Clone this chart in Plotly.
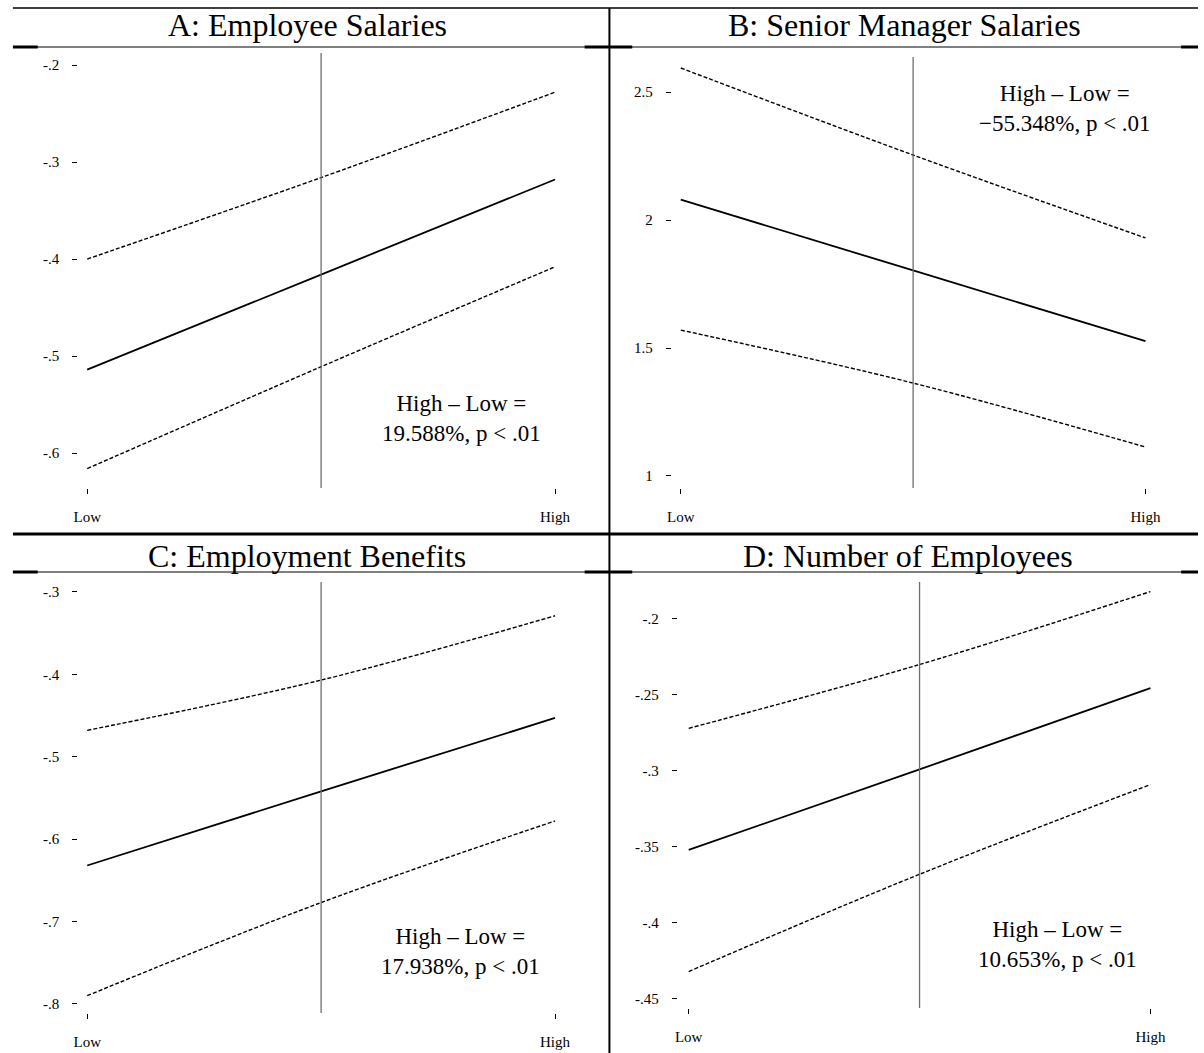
import plotly.graph_objects as go

# Predicted outcome at low / mean / high levels of the moderator
x_levels = [0, 0.5, 1]
x_tick_labels = ["Low", "High"]

a_fit = [-0.514, -0.416, -0.318]
a_upper = [-0.400, -0.316, -0.228]
a_lower = [-0.616, -0.511, -0.408]

b_fit = [2.080, 1.803, 1.527]
b_upper = [2.594, 2.254, 1.930]
b_lower = [1.570, 1.363, 1.113]

c_fit = [-0.632, -0.542, -0.453]
c_upper = [-0.468, -0.407, -0.329]
c_lower = [-0.790, -0.677, -0.578]

d_fit = [-0.352, -0.299, -0.2455]
d_upper = [-0.272, -0.230, -0.182]
d_lower = [-0.432, -0.368, -0.309]

a_ticks = [-0.2, -0.3, -0.4, -0.5, -0.6]
a_ticktext = ["-.2", "-.3", "-.4", "-.5", "-.6"]
b_ticks = [1, 1.5, 2, 2.5]
b_ticktext = ["1", "1.5", "2", "2.5"]
c_ticks = [-0.3, -0.4, -0.5, -0.6, -0.7, -0.8]
c_ticktext = ["-.3", "-.4", "-.5", "-.6", "-.7", "-.8"]
d_ticks = [-0.2, -0.25, -0.3, -0.35, -0.4, -0.45]
d_ticktext = ["-.2", "-.25", "-.3", "-.35", "-.4", "-.45"]

titles = ["A: Employee Salaries", "B: Senior Manager Salaries",
          "C: Employment Benefits", "D: Number of Employees"]
diff_labels = ["High \u2013 Low =<br>19.588%, p < .01",
               "High \u2013 Low =<br>\u221255.348%, p < .01",
               "High \u2013 Low =<br>17.938%, p < .01",
               "High \u2013 Low =<br>10.653%, p < .01"]

W, H = 1204, 1053
SERIF = "Liberation Serif, Times New Roman, serif"


def px(v):
    return v / W


def py(v):
    return 1 - v / H


# pixel boxes (left, right, top, bottom), axis ranges, label placement
panels = [
    dict(box=(74, 565, 53, 488), xr=[-0.019, 1.021], yr=[-0.636, -0.1876],
         fit=a_fit, up=a_upper, lo=a_lower, tv=a_ticks, tt=a_ticktext,
         title=(305, 25), note=(461, 418)),
    dict(box=(673, 1162, 57, 488), xr=[-0.0192, 1.0235], yr=[0.953, 2.637],
         fit=b_fit, up=b_upper, lo=b_lower, tv=b_ticks, tt=b_ticktext,
         title=(908, 25), note=(1070, 109)),
    dict(box=(74, 565, 582, 1013), xr=[-0.019, 1.021], yr=[-0.811, -0.288],
         fit=c_fit, up=c_upper, lo=c_lower, tv=c_ticks, tt=c_ticktext,
         title=(305, 556), note=(460, 951)),
    dict(box=(679, 1166, 582, 1008), xr=[-0.0236, 1.0215], yr=[-0.456, -0.1757],
         fit=d_fit, up=d_upper, lo=d_lower, tv=d_ticks, tt=d_ticktext,
         title=(911, 556), note=(1062, 944)),
]

fig = go.Figure()
layout = dict(
    width=W, height=H, margin=dict(l=0, r=0, t=0, b=0),
    paper_bgcolor="white", plot_bgcolor="white", showlegend=False,
    font=dict(family=SERIF, color="black"),
)
shapes = []
annotations = []

for i, p in enumerate(panels):
    n = "" if i == 0 else str(i + 1)
    xa, ya = "x" + n, "y" + n
    l, r, t, b = p["box"]
    layout["xaxis" + n] = dict(
        domain=[px(l), px(r)], range=p["xr"], anchor=ya,
        tickvals=[0, 1], ticktext=x_tick_labels, ticks="outside", ticklen=5,
        tickwidth=1, tickcolor="black", showgrid=False, zeroline=False,
        showline=False, tickfont=dict(size=15, family=SERIF),
        ticklabelstandoff=10,
    )
    layout["yaxis" + n] = dict(
        domain=[py(b), py(t)], range=p["yr"], anchor=xa,
        tickvals=p["tv"], ticktext=p["tt"], ticks="outside", ticklen=5,
        tickwidth=1, tickcolor="black", showgrid=False, zeroline=False,
        showline=False, tickfont=dict(size=15, family=SERIF),
        ticklabelstandoff=10,
    )
    for ys, dash, w in [(p["up"], "4px,2px", 1.4), (p["fit"], "solid", 1.8),
                        (p["lo"], "4px,2px", 1.4)]:
        fig.add_trace(go.Scatter(
            x=x_levels, y=ys, mode="lines", xaxis=xa, yaxis=ya,
            line=dict(color="black", width=w, dash=dash, shape="spline"),
            hoverinfo="skip",
        ))
    # reference line at the mean of the moderator
    shapes.append(dict(type="line", xref=xa, yref=ya + " domain",
                       x0=x_levels[1], x1=x_levels[1], y0=0, y1=1,
                       line=dict(color="#6e6e6e", width=1.3)))
    tx, ty = p["title"]
    annotations.append(dict(text=titles[i], x=px(tx), y=py(ty), xref="paper",
                            yref="paper", showarrow=False, xanchor="center",
                            yanchor="middle",
                            font=dict(size=32, family=SERIF)))
    nx, ny = p["note"]
    annotations.append(dict(text=diff_labels[i], x=px(nx), y=py(ny),
                            xref="paper", yref="paper", showarrow=False,
                            xanchor="center", yanchor="middle", align="center",
                            font=dict(size=23, family=SERIF)))


def hline(y, x0, x1, w):
    shapes.append(dict(type="line", xref="paper", yref="paper",
                       x0=px(x0), x1=px(x1), y0=py(y), y1=py(y),
                       line=dict(color="black", width=w)))


# table rules around the four panels
hline(8, 8, 1204, 1.5)
for y in (47, 572):
    hline(y, 8, 1204, 1)
    hline(y, 8, 33, 3)
    hline(y, 585, 633, 3)
    hline(y, 1187, 1204, 3)
hline(534, 8, 1204, 3)
shapes.append(dict(type="line", xref="paper", yref="paper",
                   x0=px(610), x1=px(610), y0=py(8), y1=py(1053),
                   line=dict(color="black", width=2)))

layout["shapes"] = shapes
layout["annotations"] = annotations
fig.update_layout(**layout)
fig.write_html("out.html")
